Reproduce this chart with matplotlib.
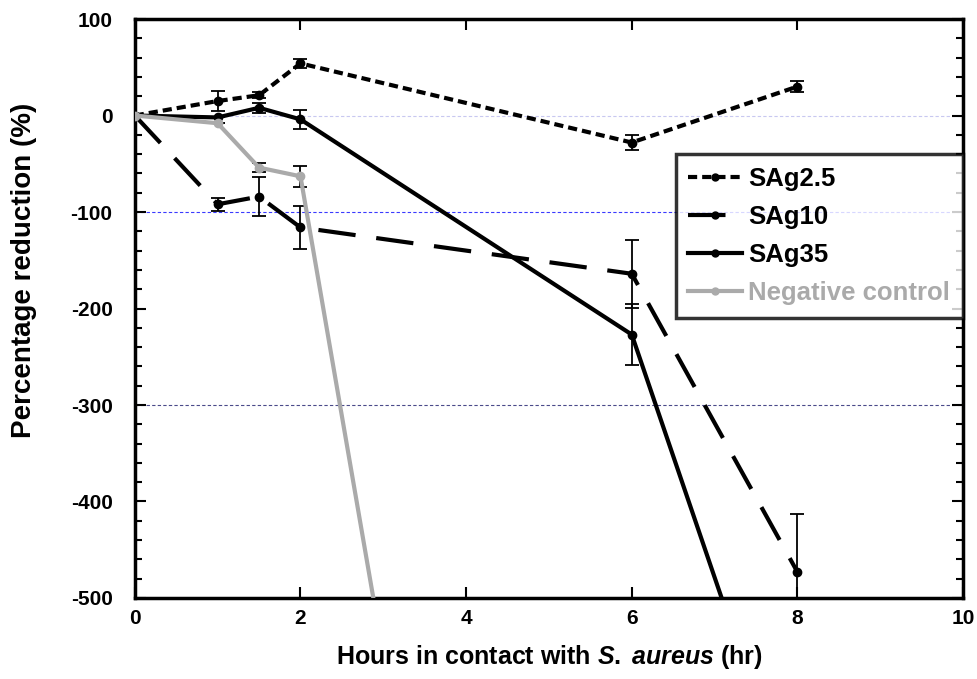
import numpy as np
import matplotlib
matplotlib.use('Agg')
import matplotlib.pyplot as plt
from matplotlib.lines import Line2D

plt.rcParams['font.family'] = 'Liberation Sans'
plt.rcParams['font.weight'] = 'bold'
plt.rcParams['axes.unicode_minus'] = False
plt.rcParams['mathtext.fontset'] = 'custom'
plt.rcParams['mathtext.it'] = 'Liberation Sans:italic:bold'
plt.rcParams['mathtext.rm'] = 'Liberation Sans:bold'

# data
x_25 = [0, 1, 1.5, 2, 6, 8]
y_25 = [0, 15, 21, 54, -28, 30]
e_25 = [0, 10, 3, 5, 8, 6]

x_10 = [0, 1, 1.5, 2, 6, 8]
y_10 = [0, -92, -84, -116, -164, -473]
e_10 = [0, 7, 20, 22, 35, 60]

x_35 = [0, 1, 1.5, 2, 6, 8]
y_35 = [0, -2, 8, -4, -227, -730]
e_35 = [0, 0, 5, 10, 32, 0]

x_neg = [0, 1, 1.5, 2, 6]
y_neg = [0, -8, -54, -63, -2050]
e_neg = [0, 0, 5, 11, 0]

names = ['SAg2.5', 'SAg10', 'SAg35', 'Negative control']

fig = plt.figure(figsize=(9.77, 6.79), dpi=100)
ax = fig.add_axes([0.138, 0.1193, 0.8477, 0.8527])

# reference lines
ax.axhline(0, color='#c8c8f0', lw=0.8, ls=(0, (3, 2)), zorder=0)
ax.axhline(-100, color='#3a3aff', lw=0.8, ls=(0, (3, 2)), zorder=0)
ax.axhline(-300, color='#4a4a8a', lw=0.8, ls=(0, (3, 2)), zorder=0)

styles = [('black', (0, (2.2, 1.2))), ('black', (0, (9, 5))),
          ('black', '-'), ('#aaaaaa', '-')]
series = [(x_25, y_25, e_25), (x_10, y_10, e_10),
          (x_35, y_35, e_35), (x_neg, y_neg, e_neg)]

handles = []
for (xs, ys, es), (c, ls), name in zip(series, styles, names):
    z = 4 if c != 'black' else 3
    ax.errorbar(xs, ys, yerr=es, color=c, lw=3, ls=ls, marker='o', ms=6,
                ecolor='black', elinewidth=1.3, capsize=5, capthick=1.3,
                zorder=z)
    handles.append(Line2D([], [], color=c, lw=3, ls=ls, marker='o', ms=5,
                          label=name))

ax.set_xlim(0, 10)
ax.set_ylim(-500, 100)
ax.set_xticks(np.arange(0, 11, 2))
ax.set_yticks(np.arange(-500, 101, 100))
ax.set_yticks(np.arange(-500, 101, 20), minor=True)
ax.tick_params(axis='both', which='both', direction='in', top=True, right=True,
               labelsize=15)
ax.tick_params(axis='x', pad=8)
ax.tick_params(axis='y', pad=16)
ax.tick_params(axis='both', which='major', length=8, width=1.5)
ax.tick_params(axis='y', which='minor', length=5, width=1.5)
for lbl in ax.get_xticklabels() + ax.get_yticklabels():
    lbl.set_fontweight('bold')
for s in ax.spines.values():
    s.set_linewidth(2.5)

ax.set_xlabel(r'Hours in contact with $\mathit{S.\;aureus}$ (hr)', fontsize=18,
              fontweight='bold')
ax.set_ylabel('Percentage reduction (%)', fontsize=20, fontweight='bold')
ax.xaxis.set_label_coords(0.5, -0.078)
ax.yaxis.set_label_coords(-0.118, 0.565)

leg = ax.legend(handles=handles, loc='upper right', bbox_to_anchor=(1.0, 0.767),
                fontsize=18.5, frameon=True, fancybox=False, numpoints=1,
                handlelength=2.1, handletextpad=0.23, borderpad=0.5,
                labelspacing=0.55, borderaxespad=0)
leg.get_frame().set_edgecolor('black')
leg.get_frame().set_linewidth(2.5)
for t in leg.get_texts():
    t.set_fontweight('bold')
leg.get_texts()[3].set_color('#aaaaaa')

fig.savefig('out.png', dpi=100)
